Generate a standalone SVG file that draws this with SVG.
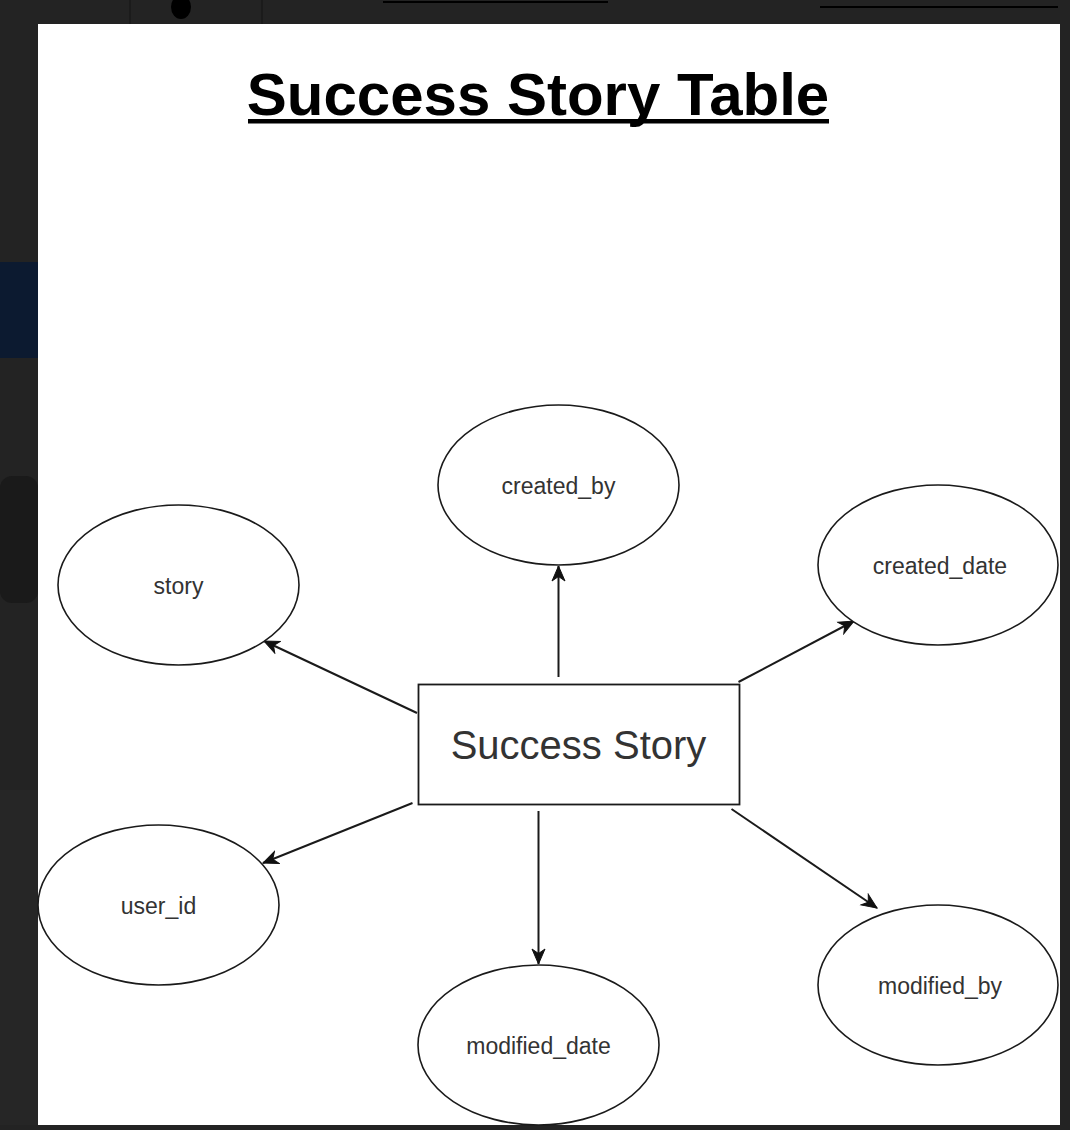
<svg xmlns="http://www.w3.org/2000/svg" width="1070" height="1130" viewBox="0 0 1070 1130">
  <defs>
    <marker id="arrow" markerUnits="userSpaceOnUse" markerWidth="18" markerHeight="16" viewBox="0 0 18 16" refX="16" refY="8" orient="auto">
      <path d="M1,1.5 L16,8 L1,14.5 L5.5,8 Z" fill="#111" stroke="#111" stroke-width="1" stroke-linejoin="miter"/>
    </marker>
  </defs>
  <style>
    .attr ellipse { fill: #ffffff; stroke: #1a1a1a; stroke-width: 1.6; }
    .attr text { font-family: "Liberation Sans", Arial, sans-serif; font-size: 23px; fill: #333333; text-anchor: middle; }
    .conn line { stroke: #1a1a1a; stroke-width: 2; marker-end: url(#arrow); }
    .entity rect { fill: #ffffff; stroke: #1a1a1a; stroke-width: 1.8; }
    .entity text { font-family: "Liberation Sans", Arial, sans-serif; font-size: 40px; fill: #333333; text-anchor: middle; }
    .title { font-family: "Liberation Sans", Arial, sans-serif; font-size: 60px; font-weight: bold; fill: #000; text-anchor: middle; }
  </style>

  <!-- background (screen behind the panel) -->
  <g id="background">
    <rect x="0" y="0" width="1070" height="1130" fill="#232323"/>
    <rect x="0" y="262" width="38" height="96" fill="#0c1a30"/>
    <rect x="0" y="476" width="38" height="127" rx="12" fill="#1a1a1a"/>
    <rect x="0" y="790" width="38" height="335" fill="#262626"/>
    <line x1="130" y1="0" x2="130" y2="24" stroke="#151515" stroke-width="1"/>
    <line x1="262" y1="0" x2="262" y2="24" stroke="#151515" stroke-width="1"/>
    <ellipse cx="181" cy="7" rx="10" ry="12" fill="#000"/>
    <line x1="383" y1="2" x2="608" y2="2" stroke="#000" stroke-width="2"/>
    <line x1="820" y1="7" x2="1058" y2="7" stroke="#000" stroke-width="2"/>
  </g>

  <!-- white panel -->
  <rect id="panel" x="38" y="24" width="1022" height="1101" fill="#ffffff"/>

  <g id="title">
    <text class="title" x="538" y="115">Success Story Table</text>
    <rect x="248" y="119" width="581" height="4.5" fill="#000"/>
  </g>

  <g class="conn" id="connectors">
    <line x1="558.5" y1="677" x2="558.5" y2="566"/>
    <line x1="417" y1="713" x2="264" y2="641"/>
    <line x1="738.5" y1="682" x2="854" y2="621"/>
    <line x1="412.5" y1="803" x2="263" y2="863"/>
    <line x1="538.5" y1="811" x2="538.5" y2="964"/>
    <line x1="731.5" y1="809" x2="877" y2="908"/>
  </g>

  <g class="entity" id="node-success-story">
    <rect x="418.5" y="684.5" width="321" height="120"/>
    <text x="578.5" y="759">Success Story</text>
  </g>

  <g class="attr" id="node-created_by">
    <ellipse cx="558.5" cy="485" rx="120.5" ry="80"/>
    <text x="558.5" y="494">created_by</text>
  </g>
  <g class="attr" id="node-story">
    <ellipse cx="178.5" cy="585" rx="120.5" ry="80"/>
    <text x="178.5" y="594">story</text>
  </g>
  <g class="attr" id="node-created_date">
    <ellipse cx="938" cy="565" rx="120" ry="80"/>
    <text x="940" y="574">created_date</text>
  </g>
  <g class="attr" id="node-user_id">
    <ellipse cx="158.5" cy="905" rx="120.5" ry="80"/>
    <text x="158.5" y="914">user_id</text>
  </g>
  <g class="attr" id="node-modified_date">
    <ellipse cx="538.5" cy="1045" rx="120.5" ry="80"/>
    <text x="538.5" y="1054">modified_date</text>
  </g>
  <g class="attr" id="node-modified_by">
    <ellipse cx="938" cy="985" rx="120" ry="80"/>
    <text x="940" y="994">modified_by</text>
  </g>
</svg>
